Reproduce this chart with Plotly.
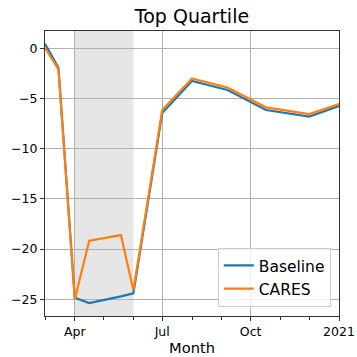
import plotly.graph_objects as go

# Monthly-ish observation dates and percent change for each scenario
dates = ["2020-03-01", "2020-03-15", "2020-04-01", "2020-04-16", "2020-05-19",
         "2020-06-01", "2020-07-01", "2020-08-01", "2020-09-07", "2020-10-17",
         "2020-12-01", "2021-01-01"]
baseline = [0.45, -1.95, -24.85, -25.37, -24.7, -24.4, -6.45, -3.25, -4.15, -6.15, -6.8, -5.75]
cares = [0.05, -2.1, -25.0, -19.17, -18.6, -24.1, -6.15, -3.0, -3.9, -5.88, -6.55, -5.55]

shade_start, shade_end = "2020-04-01", "2020-06-01"

x_ticks = ["2020-04-01", "2020-07-01", "2020-10-01", "2021-01-01"]
x_labels = ["Apr", "Jul", "Oct", "2021"]
y_ticks = [0, -5, -10, -15, -20, -25]
y_labels = ["0", "−5", "−10", "−15", "−20", "−25"]

FONT = "DejaVu Sans"

fig = go.Figure()
fig.add_trace(go.Scatter(x=dates, y=baseline, mode="lines", name="Baseline",
                         line=dict(color="#1f77b4", width=2.2)))
fig.add_trace(go.Scatter(x=dates, y=cares, mode="lines", name="CARES",
                         line=dict(color="#ff7f0e", width=2.2)))

fig.add_shape(type="rect", xref="x", yref="paper", x0=shade_start, x1=shade_end,
              y0=0, y1=1, fillcolor="rgba(128,128,128,0.2)", line_width=0, layer="below")

axis_common = dict(showline=True, mirror=True, linecolor="#333333", linewidth=1,
                   ticks="outside", ticklen=4, tickcolor="#333333", automargin=False,
                   showgrid=True, gridcolor="#b0b0b0", gridwidth=0.8, zeroline=False,
                   tickfont=dict(family=FONT, size=12.5, color="black"))

fig.update_xaxes(type="date", range=["2020-03-01", "2021-01-01"],
                 tickmode="array", tickvals=x_ticks, ticktext=x_labels,
                 minor=dict(ticks="outside", ticklen=2.5, tickcolor="#333333",
                            dtick="M1", tick0="2020-03-01", showgrid=False),
                 title=dict(text="Month", font=dict(family=FONT, size=14.7, color="black"),
                            standoff=4),
                 **axis_common)
fig.update_yaxes(range=[-26.66, 1.72], tickmode="array", tickvals=y_ticks, ticktext=y_labels,
                 **axis_common)

fig.update_layout(
    width=357, height=357,
    margin=dict(l=45, r=18, t=31, b=41),
    plot_bgcolor="white", paper_bgcolor="white",
    title=dict(text="Top Quartile", x=0.5, xref="paper", xanchor="center",
               y=1 - 16 / 357, yref="container", yanchor="middle",
               font=dict(family=FONT, size=19, color="black")),
    legend=dict(x=0.972, y=0.032, xanchor="right", yanchor="bottom",
                bgcolor="rgba(255,255,255,0.8)", bordercolor="#cccccc", borderwidth=1,
                font=dict(family=FONT, size=15.5, color="black"),
                itemwidth=30, tracegroupgap=2),
    showlegend=True,
)

fig.write_html("out.html")
